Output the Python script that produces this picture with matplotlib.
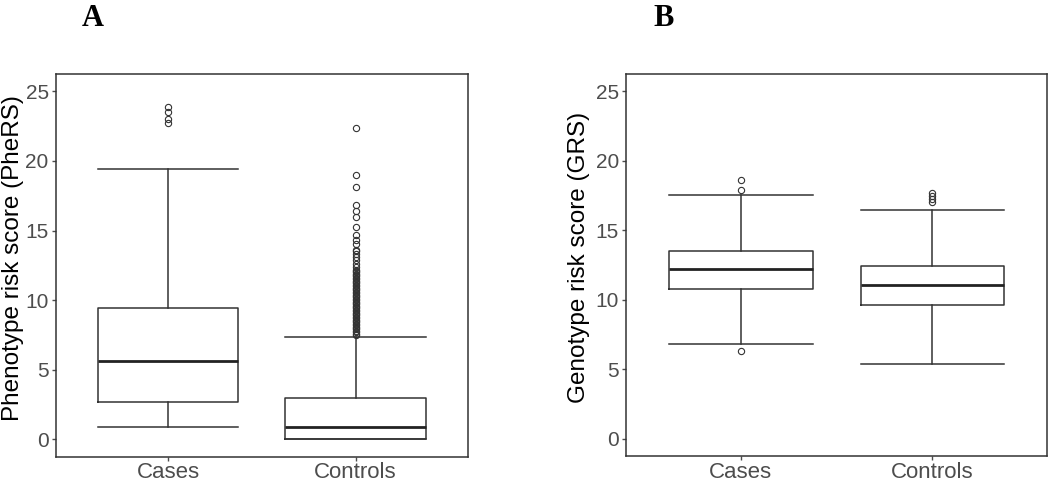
import matplotlib
matplotlib.use('Agg')
import matplotlib.pyplot as plt

plt.rcParams['font.family'] = ['Liberation Sans', 'DejaVu Sans']

groups = ['Cases', 'Controls']

# 패널 A: PheRS 박스플롯 요약값 (whislo, q1, med, q3, whishi)
phers_stats = {
    'Cases':    [0.85, 2.7, 5.6, 9.45, 19.4],
    'Controls': [0.0, 0.0, 0.9, 3.0, 7.35],
}
phers_fliers = {
    'Cases': [22.7, 23.0, 23.5, 23.85],
    'Controls': [7.5, 7.6, 7.7, 7.8, 7.9, 8.0, 8.1, 8.2, 8.3, 8.4, 8.5, 8.6,
                 8.7, 8.8, 8.9, 9.0, 9.1, 9.2, 9.3, 9.4, 9.5, 9.6, 9.7, 9.8,
                 9.9, 10.0, 10.1, 10.2, 10.3, 10.4, 10.5, 10.6, 10.7, 10.8,
                 10.9, 11.0, 11.1, 11.2, 11.3, 11.4, 11.5, 11.6, 11.7, 11.8,
                 11.9, 12.0, 12.1, 12.2, 12.4, 12.6, 12.9, 13.1, 13.3, 13.5,
                 13.6, 14.05, 14.3, 14.65, 15.25, 15.95, 16.4, 16.85, 18.15,
                 19.0, 22.4],
}

# 패널 B: GRS 박스플롯 요약값
grs_stats = {
    'Cases':    [6.8, 10.8, 12.25, 13.55, 17.55],
    'Controls': [5.35, 9.6, 11.05, 12.45, 16.5],
}
grs_fliers = {
    'Cases': [6.35, 17.9, 18.65],
    'Controls': [17.05, 17.25, 17.5, 17.7],
}

line_col = '#333333'
tick_col = '#4d4d4d'


def make_bxp_stats(stats, fliers):
    out = []
    for g in groups:
        lo, q1, med, q3, hi = stats[g]
        out.append({'whislo': lo, 'q1': q1, 'med': med, 'q3': q3,
                    'whishi': hi, 'fliers': fliers[g], 'label': g})
    return out


def draw_panel(ax, stats, fliers, ylabel, label_x):
    ax.bxp(make_bxp_stats(stats, fliers), positions=[1, 2], widths=0.75,
           showcaps=True, capwidths=0.75,
           boxprops=dict(color=line_col, linewidth=1.1),
           whiskerprops=dict(color=line_col, linewidth=1.1),
           capprops=dict(color=line_col, linewidth=1.1),
           medianprops=dict(color='#222222', linewidth=2.0),
           flierprops=dict(marker='o', markersize=4.5, markerfacecolor='none',
                           markeredgecolor=line_col, markeredgewidth=0.8))
    ax.set_xlim(0.4, 2.6)
    ax.set_ylim(-1.25, 26.25)
    ax.set_yticks([0, 5, 10, 15, 20, 25])
    ax.set_xticks([1, 2])
    ax.set_xticklabels(groups)
    ax.tick_params(axis='both', colors=tick_col, length=3,
                   width=1, labelcolor=tick_col)
    ax.tick_params(axis='y', labelsize=15, pad=2)
    ax.tick_params(axis='x', labelsize=16, pad=1)
    ax.set_ylabel(ylabel, fontsize=17.5, color='black', va='center')
    ax.yaxis.set_label_coords(label_x, 0.52)
    for s in ax.spines.values():
        s.set_color(line_col)
        s.set_linewidth(1.1)


fig = plt.figure(figsize=(10.5, 4.82), dpi=100)
ax1 = fig.add_axes([0.053, 0.0525, 0.3927, 0.794])
ax2 = fig.add_axes([0.596, 0.0535, 0.4015, 0.793])

draw_panel(ax1, phers_stats, phers_fliers, 'Phenotype risk score (PheRS)', -0.104)
draw_panel(ax2, grs_stats, grs_fliers, 'Genotype risk score (GRS)', -0.111)

fig.text(0.088, 0.962, 'A', fontsize=22, fontweight='bold',
         family='Liberation Serif', ha='center', va='center')
fig.text(0.632, 0.962, 'B', fontsize=22, fontweight='bold',
         family='Liberation Serif', ha='center', va='center')

fig.savefig('out.png', dpi=100)
